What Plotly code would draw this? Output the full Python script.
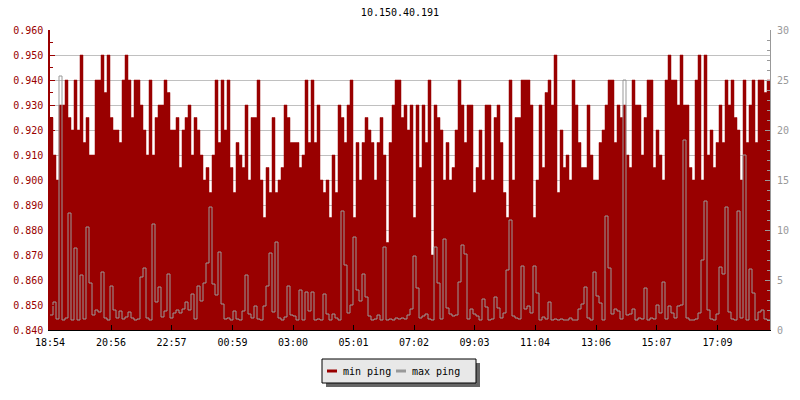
import plotly.graph_objects as go

title_text = "10.150.40.191"
start_label = "18:54"
step_minutes = 6
tick_labels = ["18:54", "20:56", "22:57", "00:59", "03:00", "05:01",
               "07:02", "09:03", "11:04", "13:06", "15:07", "17:09"]

min_ping = [
    0.925, 0.91, 0.90, 0.93, 0.93, 0.94, 0.925, 0.92, 0.94, 0.92,
    0.95, 0.915, 0.925, 0.91, 0.91, 0.94, 0.94, 0.95, 0.935, 0.95,
    0.925, 0.92, 0.92, 0.915, 0.94, 0.95, 0.94, 0.925, 0.94, 0.94,
    0.93, 0.92, 0.91, 0.94, 0.91, 0.925, 0.93, 0.93, 0.94, 0.935,
    0.92, 0.92, 0.925, 0.905, 0.92, 0.925, 0.93, 0.91, 0.925, 0.92,
    0.91, 0.90, 0.905, 0.895, 0.91, 0.94, 0.915, 0.94, 0.92, 0.94,
    0.905, 0.895, 0.915, 0.91, 0.905, 0.93, 0.90, 0.925, 0.925, 0.94,
    0.90, 0.885, 0.905, 0.895, 0.925, 0.895, 0.90, 0.905, 0.93, 0.925,
    0.915, 0.915, 0.915, 0.905, 0.91, 0.94, 0.915, 0.94, 0.915, 0.93,
    0.90, 0.895, 0.90, 0.885, 0.91, 0.895, 0.93, 0.925, 0.915, 0.93,
    0.94, 0.885, 0.915, 0.90, 0.915, 0.925, 0.92, 0.915, 0.90, 0.915,
    0.925, 0.91, 0.875, 0.915, 0.93, 0.94, 0.94, 0.925, 0.93, 0.92,
    0.93, 0.885, 0.93, 0.905, 0.93, 0.915, 0.94, 0.87, 0.93, 0.925,
    0.92, 0.90, 0.915, 0.90, 0.905, 0.92, 0.94, 0.93, 0.915, 0.93,
    0.93, 0.895, 0.905, 0.92, 0.90, 0.93, 0.93, 0.90, 0.925, 0.93,
    0.915, 0.895, 0.885, 0.94, 0.90, 0.925, 0.925, 0.94, 0.94, 0.94,
    0.93, 0.885, 0.90, 0.93, 0.905, 0.935, 0.94, 0.93, 0.95, 0.895,
    0.92, 0.905, 0.91, 0.90, 0.94, 0.93, 0.915, 0.905, 0.905, 0.93,
    0.91, 0.90, 0.90, 0.915, 0.92, 0.93, 0.94, 0.94, 0.915, 0.93,
    0.925, 0.93, 0.91, 0.905, 0.94, 0.93, 0.93, 0.91, 0.925, 0.94,
    0.94, 0.905, 0.92, 0.91, 0.90, 0.94, 0.95, 0.94, 0.94, 0.93,
    0.95, 0.93, 0.93, 0.905, 0.90, 0.94, 0.95, 0.90, 0.95, 0.91,
    0.92, 0.905, 0.915, 0.93, 0.915, 0.94, 0.93, 0.94, 0.925, 0.92,
    0.90, 0.94, 0.915, 0.93, 0.94, 0.915, 0.94, 0.94, 0.935, 0.94,
]

max_ping = [
    1.5, 2.8, 1.1, 25.4, 1.0, 1.2, 11.7, 1.0, 8.2, 1.0,
    5.5, 1.1, 10.3, 4.7, 1.5, 2.0, 1.8, 5.8, 1.2, 1.0,
    4.4, 2.0, 1.2, 1.9, 1.1, 1.3, 1.8, 1.2, 1.0, 1.1,
    5.3, 6.2, 1.2, 1.0, 10.6, 2.8, 4.3, 1.3, 1.9, 5.6,
    1.2, 1.7, 2.0, 1.7, 2.1, 2.8, 2.0, 3.6, 1.1, 4.4,
    2.9, 4.7, 6.7, 12.3, 4.6, 3.5, 7.8, 2.6, 1.1, 1.2,
    1.0, 1.9, 1.1, 1.0, 1.9, 5.5, 1.6, 1.2, 2.4, 1.1,
    1.0, 2.4, 4.4, 7.7, 1.8, 8.8, 1.2, 1.0, 1.3, 4.4,
    1.5, 1.4, 1.0, 4.0, 1.0, 3.8, 1.9, 3.8, 1.0, 1.1,
    1.0, 3.6, 1.6, 1.0, 1.6, 1.2, 1.0, 11.9, 6.5, 1.7,
    2.5, 9.3, 4.0, 2.9, 5.6, 3.3, 1.4, 1.0, 1.1, 1.5,
    1.0, 8.3, 1.0, 1.1, 1.0, 1.2, 1.1, 1.2, 1.1, 1.5,
    2.1, 7.4, 4.2, 1.2, 1.4, 1.6, 1.1, 1.0, 8.3, 4.7,
    1.1, 9.1, 2.2, 1.6, 1.4, 1.5, 4.8, 8.5, 7.6, 1.1,
    2.1, 1.6, 1.4, 1.0, 3.1, 2.3, 1.0, 1.1, 3.3, 2.2,
    1.2, 1.7, 6.0, 11.0, 1.4, 1.2, 1.1, 6.4, 2.1, 2.4,
    1.7, 6.4, 3.7, 1.0, 1.3, 1.1, 2.8, 1.0, 1.1, 1.0,
    1.1, 1.0, 1.0, 1.2, 1.0, 1.0, 2.1, 2.6, 4.3, 1.2,
    1.0, 5.8, 3.4, 2.7, 1.0, 11.4, 6.2, 1.6, 2.1, 1.9,
    1.1, 25.0, 1.5, 1.6, 2.1, 1.0, 1.2, 1.1, 4.2, 1.0,
    1.2, 1.1, 2.5, 1.7, 4.8, 1.1, 2.4, 1.7, 1.2, 2.4,
    2.5, 19.0, 1.2, 1.0, 1.0, 1.1, 1.7, 7.0, 12.9, 2.0,
    1.1, 1.0, 1.6, 6.3, 5.6, 12.3, 1.8, 1.1, 1.0, 11.9,
    1.2, 17.5, 1.0, 6.1, 3.7, 1.0, 1.8, 2.0, 1.1, 1.0,
]

RED = "#990000"
GRAY = "#999999"
FONT = "DejaVu Sans Mono"


def to_min(lbl):
    h, m = lbl.split(":")
    return int(h) * 60 + int(m)


start = to_min(start_label)
tick_vals = [(to_min(t) - start) % 1440 for t in tick_labels]

n = len(min_ping)
xs = [i * step_minutes for i in range(n)] + [n * step_minutes]
y_min = min_ping + [min_ping[-1]]
y_max = max_ping + [max_ping[-1]]

fig = go.Figure()
fig.add_trace(go.Scatter(
    x=xs, y=y_min, name="min ping", mode="lines",
    line=dict(color=RED, width=0.5, shape="hv"),
    fill="tozeroy", fillcolor=RED, showlegend=False, yaxis="y",
))
fig.add_trace(go.Scatter(
    x=xs, y=y_max, name="max ping", mode="lines",
    line=dict(color=GRAY, width=1, shape="hv"),
    showlegend=False, yaxis="y2",
))

# hand-drawn legend box (with shadow) like the original
lx0, lx1 = (322 - 50) / 720, (476 - 50) / 720
ly0, ly1 = (330 - 359) / 300, (330 - 383) / 300
sx, sy = 4 / 720, 4 / 300
shapes = [
    dict(type="rect", xref="paper", yref="paper", x0=lx0 + sx, x1=lx1 + sx,
         y0=ly0 - sy, y1=ly1 - sy, fillcolor="#666666", line=dict(width=0)),
    dict(type="rect", xref="paper", yref="paper", x0=lx0, x1=lx1,
         y0=ly0, y1=ly1, fillcolor="#e8e8e8", line=dict(color="black", width=1)),
]
ly_mid = (ly0 + ly1) / 2
items = [("min ping", RED, 327), ("max ping", GRAY, 396)]
annotations = []
for label, col, px in items:
    shapes.append(dict(type="line", xref="paper", yref="paper",
                       x0=(px - 50) / 720, x1=(px + 10 - 50) / 720,
                       y0=ly_mid, y1=ly_mid, line=dict(color=col, width=3)))
    annotations.append(dict(text=label, xref="paper", yref="paper",
                            x=(px + 14 - 50) / 720, y=ly_mid, xanchor="left",
                            yanchor="middle", showarrow=False,
                            font=dict(family=FONT, size=10, color="black")))

fig.update_layout(
    width=800, height=400,
    margin=dict(l=50, r=30, t=30, b=70, autoexpand=False),
    paper_bgcolor="white", plot_bgcolor="white",
    title=dict(text=title_text, x=0.5, xanchor="center", y=1 - 12 / 400,
               yanchor="middle", automargin=False,
               font=dict(family=FONT, size=10, color="black")),
    font=dict(family=FONT, size=10),
    xaxis=dict(range=[0, n * step_minutes], tickvals=tick_vals, ticktext=tick_labels,
               automargin=False, ticklabelstandoff=3,
               showgrid=False, zeroline=False, showline=True, linecolor="black",
               linewidth=1, ticks="inside", ticklen=5, tickcolor="black",
               tickfont=dict(family=FONT, size=10, color="black")),
    yaxis=dict(range=[0.84, 0.96], dtick=0.01, tickformat=".3f", automargin=False,
               showgrid=True, gridcolor="#c0c0c0", gridwidth=1, zeroline=False,
               showline=True, linecolor=RED, linewidth=1.5, ticks="inside",
               ticklen=5, tickcolor=RED, ticklabelstandoff=3,
               minor=dict(dtick=0.005, ticks="inside", ticklen=3, tickcolor=RED),
               tickfont=dict(family=FONT, size=10, color=RED)),
    yaxis2=dict(range=[0, 30], dtick=5, overlaying="y", side="right", automargin=False,
                showgrid=False, zeroline=False, showline=True, linecolor=GRAY,
                linewidth=1, ticks="inside", ticklen=5, tickcolor=GRAY,
                ticklabelstandoff=4,
                minor=dict(dtick=1, ticks="inside", ticklen=3, tickcolor=GRAY),
                tickfont=dict(family=FONT, size=10, color=GRAY)),
    shapes=shapes, annotations=annotations,
)

fig.write_html("out.html", config={"displayModeBar": False},
               post_script="document.body.style.margin='0px';"
                           "document.body.style.overflow='hidden';")
